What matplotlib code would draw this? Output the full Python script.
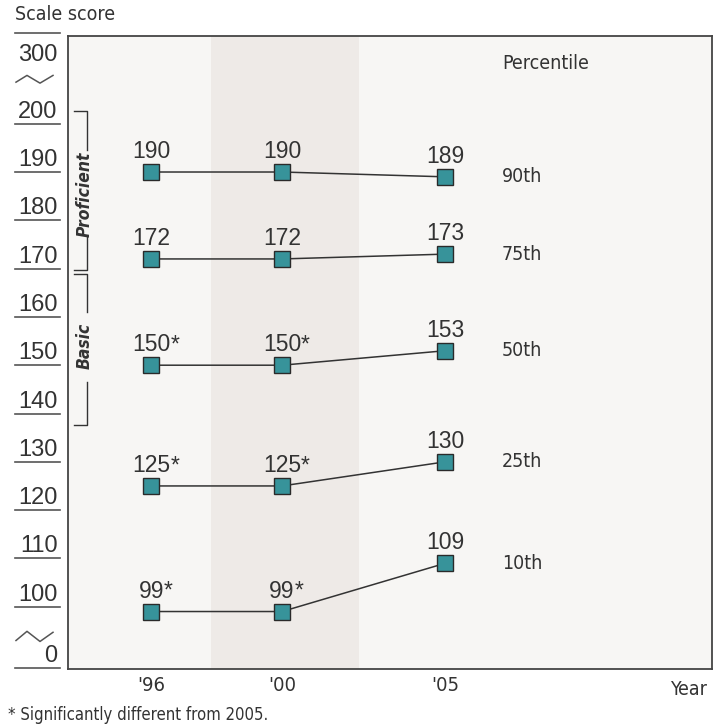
import matplotlib
matplotlib.use("Agg")
import matplotlib.pyplot as plt
import matplotlib.transforms as transforms
from matplotlib import font_manager

# data
years = [1996, 2000, 2005]
year_labels = ["'96", "'00", "'05"]
percentiles = ["90th", "75th", "50th", "25th", "10th"]
p90 = [190, 190, 189]
p75 = [172, 172, 173]
p50 = [150, 150, 153]
p25 = [125, 125, 130]
p10 = [99, 99, 109]
# asterisk = significantly different from 2005
sig90 = [False, False, False]
sig75 = [False, False, False]
sig50 = [True, True, False]
sig25 = [True, True, False]
sig10 = [True, True, False]

ytick_values = [300, 200, 190, 180, 170, 160, 150, 140, 130, 120, 110, 100, 0]
levels = ["Proficient", "Basic"]
level_top = [202.7, 168.9]
level_bottom = [169.7, 137.6]
level_text_y = [185.4, 154.0]
level_gap = [(194.6, 176.5), (161.0, 146.6)]
band_years = (1997.83, 2002.36)

num_font = ["Liberation Sans", "DejaVu Sans"]
# condensed face for the labels, if there is one
cond = font_manager.findfont(font_manager.FontProperties(family="DejaVu Sans", stretch="condensed"))
if "Condensed" in cond:
    narrow = dict(family="DejaVu Sans", stretch="condensed")
else:
    narrow = dict(family=["Liberation Sans Narrow", "Liberation Sans"])
txt_color = "#333333"
bg = "#f7f6f4"

fig = plt.figure(figsize=(7.25, 7.25), dpi=100)
ax = fig.add_axes([68 / 725, 1 - 669 / 725, 644 / 725, 633 / 725])
ax.set_facecolor(bg)
ylo, yhi = 87.1, 218.16
ax.set_xlim(1993.45, 2013.16)
ax.set_ylim(ylo, yhi)
for s in ax.spines.values():
    s.set_color("#444444")
    s.set_linewidth(1.3)

ax.axvspan(band_years[0], band_years[1], color="#eeeae7", zorder=0, lw=0)

blend = transforms.blended_transform_factory(ax.transAxes, ax.transData)

def px(x):
    return (x - 68) / 644.0

series = [p90, p75, p50, p25, p10]
sigs = [sig90, sig75, sig50, sig25, sig10]
for vals, sig, name in zip(series, sigs, percentiles):
    ax.plot(years, vals, color="#333333", lw=1.1, marker="s", markersize=11.5,
            markerfacecolor="#37939a", markeredgecolor="#2a2a2a", markeredgewidth=1.0,
            zorder=3)
    for yr, v, st in zip(years, vals, sig):
        t = ax.annotate(str(v), (yr, v), xytext=(0, 10), textcoords="offset points",
                        ha="center", va="baseline", fontsize=16.5, color=txt_color,
                        family=num_font)
        if st:
            ax.annotate("*", xy=(1, 0), xycoords=t, ha="left", va="bottom",
                        fontsize=16.5, color=txt_color, family=num_font)
    ax.text(px(502), vals[-1], name, transform=blend, ha="left", va="center",
            fontsize=14, color=txt_color, **narrow)

ax.text(px(502), 212.4, "Percentile", transform=blend, ha="left", va="center",
        fontsize=14, color=txt_color, **narrow)

# y axis labels with underlines (broken scale)
for v in ytick_values:
    if v == 300:
        pos = yhi + 0.6
        ax.plot([px(15), px(60)], [pos, pos], transform=blend, color="#555555",
                lw=1.2, clip_on=False)
        ax.annotate(str(v), (px(57.5), pos), xycoords=blend, xytext=(0, -7.5),
                    textcoords="offset points", ha="right", va="top",
                    fontsize=17, color=txt_color, family=num_font,
                    annotation_clip=False)
        continue
    pos = ylo + 0.2 if v == 0 else v
    ax.plot([px(15), px(60)], [pos, pos], transform=blend, color="#555555",
            lw=1.2, clip_on=False)
    ax.annotate(str(v), (px(57.5), pos), xycoords=blend, xytext=(0, 4.3),
                textcoords="offset points", ha="right", va="baseline",
                fontsize=17, color=txt_color, family=num_font,
                annotation_clip=False)

# scale break marks
wave_x = [px(16), px(27), px(40), px(53)]
top_w = [208.6, 210.0, 208.4, 210.0]
bot_w = [93.0, 94.9, 92.8, 94.7]
ax.plot(wave_x, top_w, transform=blend, color="#555555", lw=1.1, clip_on=False)
ax.plot(wave_x, bot_w, transform=blend, color="#555555", lw=1.1, clip_on=False)

# achievement level brackets
bx0, bx1 = px(74), px(86.5)
for name, top, bot, ty, gap in zip(levels, level_top, level_bottom, level_text_y, level_gap):
    ax.plot([bx0, bx1, bx1], [top, top, gap[0]], transform=blend, color="#333333", lw=1.0)
    ax.plot([bx1, bx1, bx0], [gap[1], bot, bot], transform=blend, color="#333333", lw=1.0)
    ax.text(px(84.5), ty, name, transform=blend, rotation=90, ha="center", va="center",
            fontsize=12.5, fontweight="bold", fontstyle="italic", color=txt_color,
            **narrow)

ax.set_yticks([])
ax.set_xticks(years)
ax.set_xticklabels(year_labels, fontsize=14.5, color=txt_color, **narrow)
ax.tick_params(axis="x", length=0, pad=5)

ax.text(px(688), -0.017, "Year", transform=ax.transAxes, ha="center", va="top",
        fontsize=14, color=txt_color, **narrow)
fig.text(15 / 725, 1 - 5 / 725, "Scale score", ha="left", va="top",
         fontsize=14, color=txt_color, **narrow)
fig.text(8 / 725, 1 - 706 / 725, "* Significantly different from 2005.", ha="left",
         va="top", fontsize=12, color=txt_color, **narrow)

fig.savefig("out.png", dpi=100, facecolor="white")
